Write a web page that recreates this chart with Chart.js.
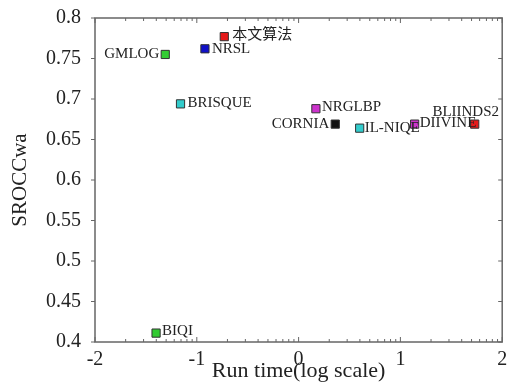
<!DOCTYPE html>
<html>
<head>
<meta charset="utf-8">
<script src="https://cdn.jsdelivr.net/npm/chart.js@4/dist/chart.umd.min.js"></script>
<style>
  html, body { margin: 0; padding: 0; background: #fff; }
  #wrap { width: 509px; height: 382px; }
</style>
</head>
<body>
<div id="wrap"><canvas id="scatter"></canvas></div>
<script>
// data
const methods = ["本文算法", "NRSL", "GMLOG", "BRISQUE", "NRGLBP", "CORNIA", "IL-NIQE", "DIIVINE", "BLIINDS2", "BIQI"];
const runTime = [-0.73, -0.92, -1.31, -1.16, 0.17, 0.36, 0.60, 1.14, 1.73, -1.40];
const srocc = [0.777, 0.762, 0.755, 0.694, 0.688, 0.669, 0.664, 0.669, 0.669, 0.411];
const xTickValues = [-2, -1, 0, 1, 2];
const yTickValues = [0.4, 0.45, 0.5, 0.55, 0.6, 0.65, 0.7, 0.75, 0.8];

// marker colours + where each label sits next to its marker
const markerColors = ["#e41a1a", "#1010c8", "#33cc33", "#33cccc", "#cc33cc", "#111111", "#33cccc", "#cc33cc", "#e41a1a", "#33cc33"];
const labelPlace = [
  { align: "left", dx: 8, dy: -2 },
  { align: "left", dx: 7, dy: 0 },
  { align: "right", dx: -6, dy: 0 },
  { align: "left", dx: 7, dy: -1 },
  { align: "left", dx: 6, dy: -2 },
  { align: "right", dx: -6, dy: 0 },
  { align: "left", dx: 5, dy: 0 },
  { align: "left", dx: 5, dy: -1 },
  { align: "center", dx: -9, dy: -12 },
  { align: "left", dx: 6, dy: -2 }
];

const serif = "'Liberation Serif', 'Times New Roman', 'Noto Sans CJK SC', serif";
const axisColor = "#666";

// box + inward ticks (log minor ticks on x)
const frame = {
  id: "frame",
  afterDraw(chart) {
    const { ctx, chartArea: a, scales } = chart;
    const xs = scales.x, ys = scales.y;
    ctx.save();
    ctx.strokeStyle = axisColor;
    ctx.lineWidth = 1.5;
    ctx.strokeRect(a.left, a.top, a.right - a.left, a.bottom - a.top);
    ctx.lineWidth = 1;
    ctx.beginPath();
    xTickValues.forEach((d, i) => {
      const px = xs.getPixelForValue(d);
      ctx.moveTo(px, a.bottom); ctx.lineTo(px, a.bottom - 5);
      ctx.moveTo(px, a.top); ctx.lineTo(px, a.top + 5);
      if (i < xTickValues.length - 1) {
        for (let k = 2; k <= 9; k++) {
          const mx = xs.getPixelForValue(d + Math.log10(k));
          ctx.moveTo(mx, a.bottom); ctx.lineTo(mx, a.bottom - 3);
          ctx.moveTo(mx, a.top); ctx.lineTo(mx, a.top + 3);
        }
      }
    });
    yTickValues.forEach((v) => {
      const py = ys.getPixelForValue(v);
      ctx.moveTo(a.left, py); ctx.lineTo(a.left - 4, py);
      ctx.moveTo(a.right, py); ctx.lineTo(a.right - 4, py);
    });
    ctx.stroke();
    ctx.restore();
  }
};

const pointLabels = {
  id: "pointLabels",
  afterDatasetsDraw(chart) {
    const { ctx } = chart;
    const pts = chart.getDatasetMeta(0).data;
    ctx.save();
    ctx.font = "15px " + serif;
    ctx.fillStyle = "#222";
    ctx.textBaseline = "middle";
    pts.forEach((p, i) => {
      const lp = labelPlace[i];
      ctx.textAlign = lp.align;
      ctx.fillText(methods[i], p.x + lp.dx, p.y + lp.dy);
    });
    ctx.restore();
  }
};

const ctx = document.getElementById("scatter").getContext("2d");
const chart = new Chart(ctx, {
  type: "scatter",
  data: {
    datasets: [{
      data: runTime.map((x, i) => ({ x: x, y: srocc[i] })),
      pointStyle: "rect",
      pointRadius: 5.8,
      pointBackgroundColor: markerColors,
      pointBorderColor: "#333",
      pointBorderWidth: 1
    }]
  },
  options: {
    responsive: true,
    maintainAspectRatio: false,
    animation: false,
    layout: { padding: { top: 16, right: 4, left: 0, bottom: 0 } },
    plugins: { legend: { display: false }, tooltip: { enabled: false } },
    scales: {
      x: {
        type: "linear",
        min: -2,
        max: 2,
        afterBuildTicks: (s) => { s.ticks = xTickValues.map((v) => ({ value: v })); },
        afterFit: (s) => { s.height = 40; },
        grid: { display: false },
        border: { display: false },
        ticks: { color: "#222", font: { family: serif, size: 20 }, padding: -2, maxRotation: 0, callback: (v) => String(v) },
        title: { display: true, text: "Run time(log scale)", color: "#222", font: { family: serif, size: 22 }, padding: { top: 0, bottom: -2 } }
      },
      y: {
        min: 0.4,
        max: 0.8,
        afterBuildTicks: (s) => { s.ticks = yTickValues.map((v) => ({ value: v })); },
        afterFit: (s) => { s.width = 95; },
        grid: { display: false },
        border: { display: false },
        ticks: { color: "#222", font: { family: serif, size: 20 }, padding: 6, callback: (v) => String(v) },
        title: { display: true, text: "SROCCwa", color: "#222", font: { family: serif, size: 21 }, padding: { top: 8, bottom: 0 } }
      }
    }
  },
  plugins: [frame, pointLabels]
});
</script>
</body>
</html>
